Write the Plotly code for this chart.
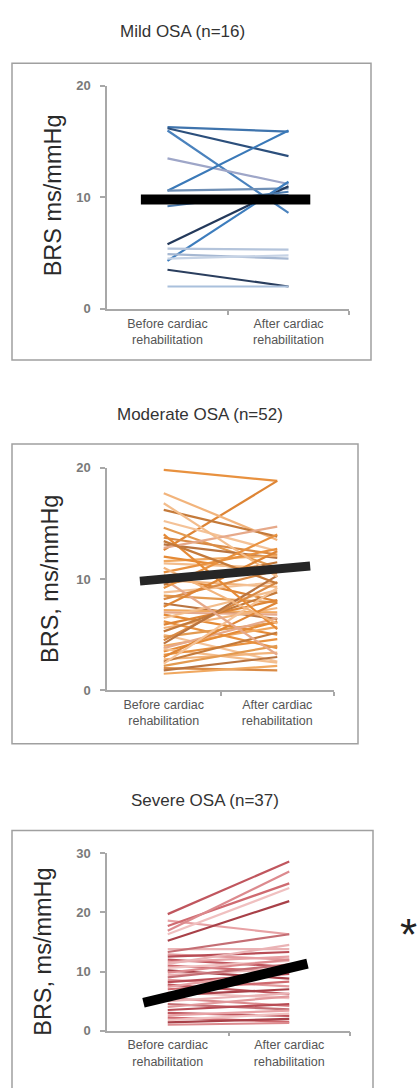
import plotly.graph_objects as go

W, H = 419, 1088

categories = ["Before cardiac<br>rehabilitation", "After cardiac<br>rehabilitation"]
titles = ["Mild OSA (n=16)", "Moderate OSA (n=52)", "Severe OSA (n=37)"]
y_titles = ["BRS ms/mmHg", "BRS, ms/mmHg", "BRS, ms/mmHg"]

mild_before = [16.3, 16.2, 16.0, 13.5, 10.6, 10.6, 9.6, 9.8, 5.8, 4.3, 5.4, 4.9, 4.5, 3.5, 2.0, 9.2]
mild_after = [15.9, 13.7, 8.6, 11.2, 16.0, 10.8, 9.5, 10.2, 11.0, 11.4, 5.3, 4.5, 4.8, 2.0, 2.0, 10.5]

moderate_before = [19.8, 12.6, 17.7, 16.2, 15.2, 14.6, 13.7, 13.1, 11.6, 12.8, 12.0, 11.4, 10.6,
                   10.3, 9.9, 9.5, 8.8, 8.5, 8.2, 7.8, 7.2, 7.0, 6.8, 6.5, 6.2, 5.9, 5.6, 5.3,
                   5.0, 4.8, 4.5, 4.2, 4.0, 3.8, 3.5, 3.7, 3.2, 3.0, 2.8, 2.6, 2.4, 2.2, 2.0,
                   1.8, 1.5, 10.0, 14.0, 16.8, 9.2, 7.5, 11.0, 13.4]
moderate_after = [18.8, 18.8, 13.5, 13.8, 12.5, 11.0, 12.2, 11.9, 12.1, 14.7, 10.5, 11.0, 12.7,
                  8.0, 9.3, 11.5, 9.7, 7.9, 10.8, 6.4, 7.0, 6.8, 5.0, 9.0, 3.8, 8.1, 7.4, 8.8,
                  2.6, 6.1, 9.7, 10.3, 5.7, 6.5, 6.2, 2.5, 4.6, 7.9, 3.4, 5.2, 9.2, 4.0, 1.8,
                  3.0, 2.2, 3.2, 5.5, 10.2, 14.0, 12.5, 6.0, 9.6]

severe_before = [19.7, 18.6, 17.7, 16.3, 15.2, 16.9, 13.8, 13.3, 12.9, 12.5, 12.0, 11.6, 11.0,
                 10.6, 10.2, 9.8, 9.4, 9.0, 8.6, 8.2, 7.8, 7.4, 7.0, 6.5, 6.0, 5.5, 5.0, 4.5,
                 4.0, 3.5, 3.0, 2.6, 2.2, 1.8, 1.4, 1.0, 11.3]
severe_after = [28.6, 16.3, 24.9, 24.1, 21.9, 26.9, 13.8, 16.3, 12.0, 13.3, 10.8, 12.5, 9.9,
                11.8, 8.8, 12.0, 10.5, 11.2, 7.5, 9.6, 6.2, 10.2, 8.3, 5.5, 7.0, 4.2, 6.3, 3.6,
                5.8, 4.5, 2.5, 3.4, 1.5, 2.9, 2.0, 1.3, 14.5]

mean_before = [9.8, 10.0, 5.7]
mean_after = [9.8, 10.9, 10.6]

y_max = [20, 20, 30]
y_ticks = [[0, 10, 20], [0, 10, 20], [0, 10, 20, 30]]

# ---- styling ----
palettes = [
    ["#3f74ad", "#2c4f7c", "#4a82bd", "#9ea6c8", "#3a79b8", "#6f8fb5", "#2b3f60", "#5b86b8",
     "#23395b", "#3d7dbd", "#b4c4db", "#a6b8d2", "#c6d3e5", "#2a3e5e", "#a9c0dc", "#4f7eb0"],
    ["#e8913f", "#de8535", "#f2b47c", "#c47a3a", "#f4c297", "#e39a50", "#d98a45", "#b97440",
     "#f0a860", "#e6a98a", "#e58a35", "#f3bd8c"],
    ["#c0565e", "#e7a1a4", "#cf6a70", "#f0c0c0", "#a84048", "#dc8a8e", "#eab3b5", "#c46e74",
     "#e29a9d", "#b84c55"],
]
mean_colors = ["#000000", "#262626", "#000000"]
mean_widths = [10, 9, 10]
mean_ext = [(-0.22, 1.18), (-0.21, 1.29), (-0.2, 1.15)]

# pixel layout
x_px = [(107, 349), (107, 334), (107, 350)]
y_px = [(306, 80), (693, 467), (1038, 858)]  # (y of 0, y of top)
boxes = [(12, 57, 371, 358), (12, 443, 358, 747), (12, 835, 373, 1100)]
title_pos = [(182, 25), (200, 413), (205, 805)]
ytitle_pos = [(53, 191), (50, 580), (43, 958)]

def px(x):
    return x / W

def py(y):
    return 1 - y / H

befores = [mild_before, moderate_before, severe_before]
afters = [mild_after, moderate_after, severe_after]

fig = go.Figure()
layout = dict(width=W, height=H, margin=dict(l=0, r=0, t=0, b=0),
              paper_bgcolor="white", plot_bgcolor="rgba(0,0,0,0)", showlegend=False,
              font=dict(family="Liberation Sans, Arial, sans-serif", color="#444"))
shapes = []
annotations = []

for i in range(3):
    xa = "x" if i == 0 else f"x{i+1}"
    ya = "y" if i == 0 else f"y{i+1}"
    pal = palettes[i]
    for j, (b, a) in enumerate(zip(befores[i], afters[i])):
        fig.add_trace(go.Scatter(x=[0, 1], y=[b, a], mode="lines", xaxis=xa, yaxis=ya,
                                 line=dict(color=pal[j % len(pal)], width=2.2),
                                 hoverinfo="skip"))
    x0, x1 = mean_ext[i]
    mb, ma = mean_before[i], mean_after[i]
    fig.add_trace(go.Scatter(x=[x0, x1], y=[mb + (ma - mb) * x0, mb + (ma - mb) * x1],
                             mode="lines", xaxis=xa, yaxis=ya,
                             line=dict(color=mean_colors[i], width=mean_widths[i]),
                             hoverinfo="skip"))

    xk = "xaxis" if i == 0 else f"xaxis{i+1}"
    yk = "yaxis" if i == 0 else f"yaxis{i+1}"
    layout[xk] = dict(domain=[px(x_px[i][0]), px(x_px[i][1])], range=[-0.5, 1.5],
                      anchor=ya, showgrid=False, zeroline=False, showline=True,
                      linecolor="#a8a8a8", linewidth=1.5,
                      tickmode="array", tickvals=[0, 1], ticktext=categories,
                      ticks="", tickfont=dict(size=12.5, color="#555"),
                      ticklabelstandoff=2,
                      minor=dict(tickmode="array", tickvals=[0.5, 1.5], ticks="outside",
                                 ticklen=4, tickcolor="#a8a8a8", tickwidth=1.5, showgrid=False),
                      fixedrange=True)
    layout[yk] = dict(domain=[py(y_px[i][0]), py(y_px[i][1])], range=[0, y_max[i]],
                      anchor=xa, showgrid=False, zeroline=False, showline=True,
                      linecolor="#a8a8a8", linewidth=1.5,
                      tickmode="array", tickvals=y_ticks[i], ticks="outside", ticklen=5,
                      tickcolor="#a8a8a8", tickwidth=1.5,
                      tickfont=dict(size=13, color="#7a7a7a", weight="bold"),
                      ticklabelstandoff=7, fixedrange=True)
    bx0, by0, bx1, by1 = boxes[i]
    shapes.append(dict(type="rect", xref="paper", yref="paper",
                       x0=px(bx0), x1=px(bx1), y0=py(by1), y1=py(by0),
                       line=dict(color="#a0a0a0", width=1.5), fillcolor="rgba(0,0,0,0)",
                       layer="below"))
    tx, ty = title_pos[i]
    annotations.append(dict(text=titles[i], xref="paper", yref="paper", x=px(tx), y=py(ty),
                            showarrow=False, xanchor="center", yanchor="middle",
                            font=dict(size=17, color="#333")))
    yx, yy = ytitle_pos[i]
    annotations.append(dict(text=y_titles[i], xref="paper", yref="paper", x=px(yx), y=py(yy),
                            showarrow=False, xanchor="center", yanchor="middle", textangle=-90,
                            font=dict(size=23.5, color="#2a2a2a")))

annotations.append(dict(text="*", xref="paper", yref="paper", x=px(408), y=py(940),
                        showarrow=False, xanchor="center", yanchor="middle",
                        font=dict(size=44, color="#222")))

layout["shapes"] = shapes
layout["annotations"] = annotations
fig.update_layout(**layout)
fig.write_html("out.html", config={"displayModeBar": False},
               post_script="document.body.style.margin='0';"
                           "document.body.style.overflow='hidden';")
